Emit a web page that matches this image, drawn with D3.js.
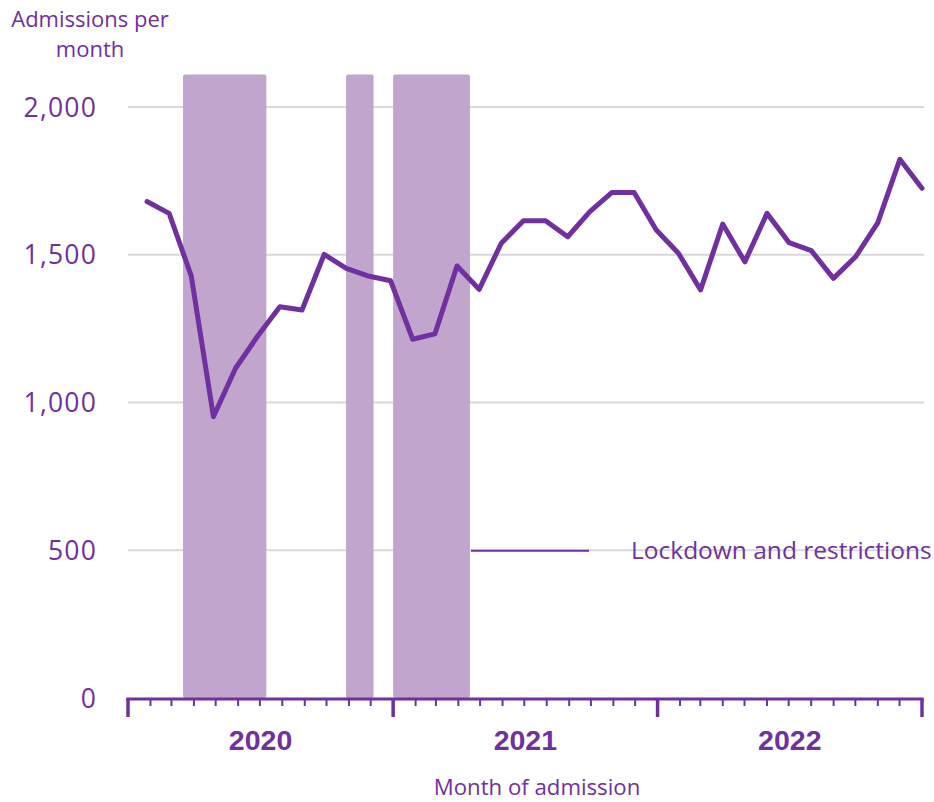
<!DOCTYPE html>
<html>
<head>
<meta charset="utf-8">
<script src="https://cdn.jsdelivr.net/npm/d3@7"></script>
<style>
  html, body { margin: 0; padding: 0; background: #fff; }
  svg { display: block; }
</style>
</head>
<body>
<svg id="chart" width="934" height="802"></svg>
<script>
// ---- data ----
const months = d3.range(36).map(i => new Date(2020, i, 1));
const admissions = [1680, 1640, 1428, 952, 1116, 1225, 1324, 1313, 1501, 1454, 1428, 1412,
                    1214, 1232, 1462, 1383, 1539, 1615, 1615, 1561, 1646, 1711, 1711, 1584,
                    1505, 1381, 1604, 1476, 1640, 1541, 1514, 1420, 1493, 1608, 1823, 1725];
const lockdowns = [
  [new Date(2020, 2, 17), new Date(2020, 6, 10)],
  [new Date(2020, 9, 28), new Date(2020, 11, 5)],
  [new Date(2021, 0, 1), new Date(2021, 3, 17)]
];
const yTicks = [0, 500, 1000, 1500, 2000];
const yearLabels = ["2020", "2021", "2022"];
const yearStarts = [new Date(2020, 0, 1), new Date(2021, 0, 1), new Date(2022, 0, 1), new Date(2023, 0, 1)];
const legendLabel = "Lockdown and restrictions";
const yTitle = ["Admissions per", "month"];
const xTitle = "Month of admission";

// ---- styles ----
const purple = "#7030A0";
const shade = "#C1A5CD";
const grid = "#D9D9D9";
const font = "'Open Sans', 'Noto Sans', sans-serif";

const svg = d3.select("#chart");
const mLeft = 128, mRight = 922, mTop = 107, mBottom = 698;

const x = d3.scaleTime().domain([new Date(2020, 0, 1), new Date(2023, 0, 1)]).range([mLeft, mRight]);
const xp = d3.scalePoint().domain(d3.range(36)).range([147, 922]);
const y = d3.scaleLinear().domain([0, 2000]).range([mBottom, mTop]);

// gridlines
svg.append("g").selectAll("line").data(yTicks.filter(d => d > 0)).join("line")
  .attr("x1", mLeft).attr("x2", mRight + 2)
  .attr("y1", d => y(d)).attr("y2", d => y(d))
  .attr("stroke", grid).attr("stroke-width", 2);

// lockdown shading
svg.append("g").selectAll("rect").data(lockdowns).join("rect")
  .attr("x", d => x(d[0]))
  .attr("width", d => x(d[1]) - x(d[0]))
  .attr("y", y(2110))
  .attr("height", d => y(0) - y(2110))
  .attr("rx", 2)
  .attr("fill", shade);

// y labels
svg.append("g").selectAll("text").data(yTicks).join("text")
  .attr("x", 97).attr("y", d => y(d))
  .attr("dy", "0.36em")
  .attr("text-anchor", "end")
  .attr("font-family", font).attr("font-size", 26.5)
  .attr("letter-spacing", 1.2)
  .attr("fill", purple)
  .text(d => d3.format(",")(d));

// y title
svg.append("text")
  .attr("font-family", font).attr("font-size", 22)
  .attr("fill", purple).attr("text-anchor", "middle")
  .selectAll("tspan").data(yTitle).join("tspan")
  .attr("x", 90).attr("y", (d, i) => 27 + i * 30)
  .text(d => d);

// line
const line = d3.line().x((d, i) => xp(i)).y(d => y(d));
svg.append("path").datum(admissions)
  .attr("d", line)
  .attr("fill", "none")
  .attr("stroke", purple)
  .attr("stroke-width", 5)
  .attr("stroke-linejoin", "round")
  .attr("stroke-linecap", "round");

// x axis
const axisG = svg.append("g");
axisG.append("line")
  .attr("x1", mLeft - 1.5).attr("x2", mRight + 1.5)
  .attr("y1", mBottom + 1).attr("y2", mBottom + 1)
  .attr("stroke", purple).attr("stroke-width", 3);
const minor = d3.timeMonth.range(new Date(2020, 0, 1), new Date(2023, 0, 2));
axisG.selectAll("line.minor").data(minor).join("line")
  .attr("class", "minor")
  .attr("x1", d => x(d)).attr("x2", d => x(d))
  .attr("y1", mBottom).attr("y2", mBottom + 8)
  .attr("stroke", purple).attr("stroke-width", 2);
axisG.selectAll("line.major").data(yearStarts).join("line")
  .attr("class", "major")
  .attr("x1", d => x(d)).attr("x2", d => x(d))
  .attr("y1", mBottom).attr("y2", mBottom + 19)
  .attr("stroke", purple).attr("stroke-width", 3.5);
axisG.selectAll("text.year").data(yearLabels).join("text")
  .attr("class", "year")
  .attr("x", (d, i) => (x(yearStarts[i]) + x(yearStarts[i + 1])) / 2)
  .attr("y", 750)
  .attr("text-anchor", "middle")
  .attr("font-family", "'Liberation Sans', Arial, sans-serif")
  .attr("font-weight", "bold").attr("font-size", 28.5)
  .attr("fill", purple)
  .text(d => d);

svg.append("text")
  .attr("x", 537).attr("y", 795)
  .attr("text-anchor", "middle")
  .attr("font-family", font).attr("font-size", 22.2)
  .attr("fill", purple)
  .text(xTitle);

// legend
const lg = svg.append("g");
lg.append("line")
  .attr("x1", 471).attr("x2", 589)
  .attr("y1", y(500) + 0.5).attr("y2", y(500) + 0.5)
  .attr("stroke", purple).attr("stroke-width", 2);
lg.append("text")
  .attr("x", 631).attr("y", y(500))
  .attr("dy", "0.35em")
  .attr("font-family", font).attr("font-size", 24.5)
  .attr("fill", purple)
  .text(legendLabel);
</script>
</body>
</html>
